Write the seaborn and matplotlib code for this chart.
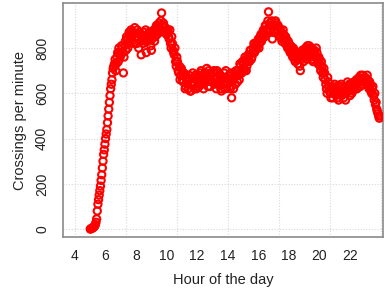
import numpy as np
import pandas as pd
import matplotlib
matplotlib.use('Agg')
import matplotlib.pyplot as plt
import seaborn as sns

# crossings per minute, read every 5 minutes from 5:00 to 23:55
start_hour = 5.0
step_hours = 5 / 60
crossings_a = [
    0, 3, 6, 10, 20, 45, 110, 150, 190, 240, 300, 350,            # 5h
    400, 440, 500, 560, 620, 660, 710, 730, 700, 760, 740, 780,  # 6h
    770, 800, 690, 810, 790, 840, 820, 860, 880, 830, 860, 890,  # 7h
    850, 880, 800, 860, 770, 850, 870, 830, 780, 860, 840, 870,  # 8h
    790, 860, 880, 850, 900, 870, 910, 880, 955, 900, 870, 890,  # 9h
    860, 880, 840, 820, 850, 790, 770, 740, 760, 700, 720, 680,  # 10h
    700, 650, 680, 630, 670, 620, 660, 610, 650, 670, 620, 660,  # 11h
    630, 680, 650, 700, 660, 620, 690, 650, 670, 700, 630, 680,  # 12h
    650, 700, 660, 620, 690, 640, 680, 610, 660, 690, 620, 670,  # 13h
    640, 680, 620, 580, 660, 690, 640, 680, 700, 660, 720, 690,  # 14h
    730, 700, 750, 720, 770, 740, 790, 760, 800, 780, 820, 800,  # 15h
    840, 820, 860, 840, 880, 850, 900, 870, 960, 910, 880, 840,  # 16h
    900, 880, 910, 870, 890, 850, 870, 840, 860, 820, 840, 800,  # 17h
    820, 780, 800, 760, 790, 740, 770, 730, 760, 700, 750, 780,  # 18h
    760, 800, 750, 790, 810, 760, 800, 740, 790, 760, 780, 730,  # 19h
    750, 700, 720, 670, 690, 640, 600, 650, 610, 580, 630, 600,  # 20h
    640, 590, 620, 570, 610, 640, 600, 580, 630, 600, 650, 620,  # 21h
    590, 640, 610, 650, 620, 660, 640, 670, 630, 660, 680, 650,  # 22h
    670, 640, 660, 620, 640, 600, 630, 570, 550, 530, 510, 490,  # 23h
]
# same day, read half way between the samples above (5:02.5, 5:07.5, ...)
crossings_b = [
    1, 4, 8, 14, 30, 80, 130, 170, 215, 270, 330, 375,            # 5h
    420, 470, 530, 590, 640, 690, 720, 750, 730, 780, 800, 760,  # 6h
    810, 780, 760, 830, 850, 800, 870, 840, 850, 870, 820, 850,  # 7h
    820, 840, 870, 830, 860, 820, 840, 880, 850, 830, 870, 810,  # 8h
    840, 870, 830, 890, 860, 900, 870, 920, 880, 910, 890, 870,  # 9h
    870, 850, 880, 800, 820, 780, 800, 720, 740, 690, 660, 710,  # 10h
    660, 690, 620, 660, 640, 680, 610, 640, 690, 640, 680, 620,  # 11h
    670, 630, 690, 640, 680, 660, 650, 710, 630, 660, 690, 650,  # 12h
    690, 640, 670, 700, 650, 680, 620, 660, 640, 670, 700, 650,  # 13h
    660, 630, 690, 650, 620, 670, 700, 650, 680, 730, 690, 740,  # 14h
    710, 760, 700, 740, 760, 790, 750, 780, 820, 790, 810, 830,  # 15h
    800, 850, 830, 870, 860, 900, 880, 920, 900, 880, 920, 870,  # 16h
    870, 920, 880, 900, 860, 880, 830, 880, 840, 850, 810, 830,  # 17h
    790, 810, 770, 800, 750, 760, 780, 750, 720, 770, 790, 740,  # 18h
    790, 770, 810, 770, 800, 780, 750, 780, 770, 800, 740, 760,  # 19h
    720, 740, 690, 710, 660, 620, 670, 630, 600, 620, 580, 620,  # 20h
    610, 630, 580, 600, 630, 590, 620, 600, 570, 620, 610, 640,  # 21h
    620, 600, 640, 630, 650, 620, 660, 650, 680, 640, 660, 670,  # 22h
    650, 680, 630, 650, 610, 620, 590, 600, 560, 520, 500, 500,  # 23h
]
hours_a = start_hour + step_hours * np.arange(len(crossings_a))
hours_b = hours_a + step_hours / 2

df = pd.DataFrame({'hour': np.concatenate([hours_a, hours_b]),
                   'crossings': crossings_a + crossings_b})

x_ticks = list(range(4, 24))
x_labels = [str(h) if h % 2 == 0 else '' for h in x_ticks]
y_ticks = [0, 200, 400, 600, 800]

sns.set_style('white')
plt.rcParams['font.family'] = ['Liberation Sans', 'DejaVu Sans']

fig = plt.figure(figsize=(3.85, 2.94), dpi=100)
ax = fig.add_axes([63/385, 1-237/294, 320/385, 234/294])

# R style grid
for gx in np.linspace(4, 24, 7):
    ax.axvline(gx, color='#d9d9d9', lw=0.8, ls=(0, (1, 1.5)), zorder=0)
for gy in y_ticks:
    ax.axhline(gy, color='#d9d9d9', lw=0.8, ls=(0, (1, 1.5)), zorder=0)

sns.scatterplot(data=df, x='hour', y='crossings', ax=ax, marker='o',
                facecolor='none', edgecolor='red', s=27, linewidth=1.5, zorder=3)

ax.set_xlim(3.215, 24.16)
ax.set_ylim(-35, 999)
ax.set_xticks(x_ticks)
ax.set_xticklabels(x_labels, fontsize=10, color='#222222', family='Liberation Sans')
ax.set_yticks(y_ticks)
ax.set_yticklabels([str(v) for v in y_ticks], fontsize=10, color='#222222',
                   rotation=90, va='center', family='Liberation Sans')
ax.tick_params(axis='both', length=5, width=0.9, color='#777777', direction='out')
ax.tick_params(axis='x', pad=4)
ax.tick_params(axis='y', pad=5)
for sp in ax.spines.values():
    sp.set_visible(True)
    sp.set_color('#8a8a8a')
    sp.set_linewidth(1.2)

ax.set_xlabel('Hour of the day', fontsize=10.5, color='#222222', labelpad=7,
              family='Liberation Sans')
ax.set_ylabel('Crossings per minute', fontsize=10.5, color='#222222', labelpad=6,
              family='Liberation Sans')

fig.savefig('out.png', dpi=100)
